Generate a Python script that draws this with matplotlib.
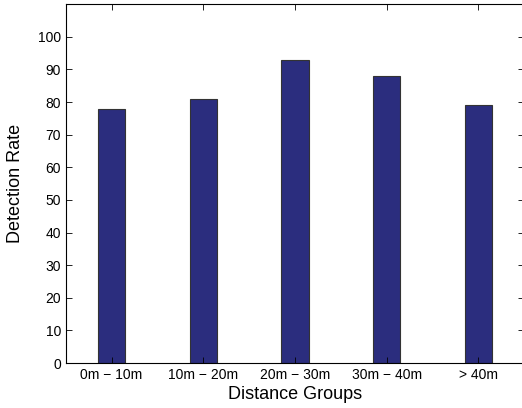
import matplotlib
matplotlib.use("Agg")
import matplotlib.pyplot as plt
import numpy as np

plt.rcParams['font.family'] = ['Liberation Sans', 'DejaVu Sans']

groups = ['0m \u2212 10m', '10m \u2212 20m', '20m \u2212 30m', '30m \u2212 40m', '> 40m']
rates = [78, 81, 93, 88, 79]

fig = plt.figure(figsize=(5.22, 4.08), dpi=100)
ax = fig.add_axes([0.126, 0.110, 0.878, 0.880])

x = np.arange(1, len(groups) + 1)
ax.bar(x, rates, width=0.3, color='#2b2d7e', edgecolor='#333333', linewidth=0.8)

ax.set_xlim(0.5, 5.5)
ax.set_ylim(0, 110)
ax.set_xticks(x)
ax.set_xticklabels(groups)
ax.set_yticks(np.arange(0, 101, 10))
ax.tick_params(direction='in', top=True, right=True, labelsize=10, length=4, width=0.6)
for s in ax.spines.values():
    s.set_linewidth(0.8)

ax.set_xlabel('Distance Groups', fontsize=13, labelpad=3)
ax.set_ylabel('Detection Rate', fontsize=13, labelpad=10)

fig.savefig('out.png', dpi=100)
